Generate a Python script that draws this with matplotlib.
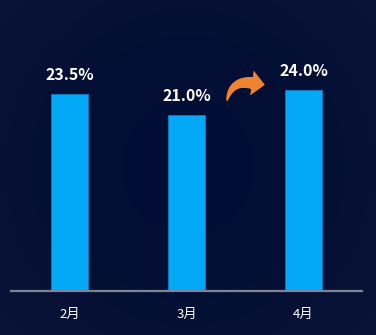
import numpy as np
import matplotlib
matplotlib.use("Agg")
import matplotlib.pyplot as plt
from matplotlib.patches import Polygon
from matplotlib.colors import LinearSegmentedColormap

plt.rcParams['font.family'] = ['Noto Sans CJK SC', 'DejaVu Sans']

categories = ["2月", "3月", "4月"]
values = [23.5, 21.0, 24.0]
value_labels = ["23.5%", "21.0%", "24.0%"]

W, H = 376, 335
fig = plt.figure(figsize=(W / 100, H / 100), dpi=100)

# background gradient
bg = fig.add_axes([0, 0, 1, 1], zorder=-10)
yy, xx = np.mgrid[0:1:200j, 0:1:200j]
r = np.sqrt(((xx - 0.5) / 0.7) ** 2 + ((yy - 0.5) / 0.8) ** 2)
cmap = LinearSegmentedColormap.from_list("bgc", ["#020d36", "#040f34", "#0a1437"])
bg.imshow(r, cmap=cmap, aspect="auto", extent=[0, 1, 0, 1], origin="lower", vmin=0, vmax=1)
bg.set_xlim(0, 1)
bg.set_ylim(0, 1)
bg.axis("off")

left, right = 11 / W, 362 / W
bottom, top = (H - 291) / H, (H - 10) / H
ax = fig.add_axes([left, bottom, right - left, top - bottom])
ax.patch.set_alpha(0)

x = np.arange(len(categories))
ax.bar(x, values, width=0.316, color="#03a9f7", edgecolor="#0a7ec0", linewidth=0.6)
ax.set_xlim(-0.5, 2.5)
ax.set_ylim(0, 281 / 8.38)

for xi, v, lab in zip(x, values, value_labels):
    ax.annotate(lab, (xi, v), xytext=(0, 19), textcoords="offset pixels",
                ha="center", va="center", color="white", fontsize=11.5, fontweight="bold")

ax.set_xticks(x)
ax.set_xticklabels(categories, color="white", fontsize=9.5)
ax.tick_params(axis="x", length=0, pad=12)
ax.set_yticks([])
for s in ["top", "right", "left"]:
    ax.spines[s].set_visible(False)
ax.spines["bottom"].set_color("#7d8496")
ax.spines["bottom"].set_linewidth(1.6)

# decorative curved arrow (pixel geometry -> figure fraction)
P0 = np.array([227.0, 101.0]); C = np.array([231.0, 80.0]); P1 = np.array([252.0, 83.0])
t = np.linspace(0, 1, 40)[:, None]
pts = (1 - t) ** 2 * P0 + 2 * (1 - t) * t * C + t ** 2 * P1
der = 2 * (1 - t) * (C - P0) + 2 * t * (P1 - C)
tang = der / np.linalg.norm(der, axis=1, keepdims=True)
norm = np.column_stack([-tang[:, 1], tang[:, 0]])
wid = (0.5 + 5.5 * t[:, 0] ** 0.7)[:, None]
side_a = pts + norm * wid
side_b = pts - norm * wid
tn, nn = tang[-1], norm[-1]
tip = P1 + tn * 13
hb_a = P1 + nn * 12.5
hb_b = P1 - nn * 12.5
poly = np.vstack([side_a, hb_a, tip, hb_b, side_b[::-1]])
poly_fig = np.column_stack([poly[:, 0] / W, 1 - poly[:, 1] / H])
fig.add_artist(Polygon(poly_fig, closed=True, transform=fig.transFigure,
                       facecolor="#ef8430", edgecolor="none"))

fig.savefig("out.png", dpi=100)
